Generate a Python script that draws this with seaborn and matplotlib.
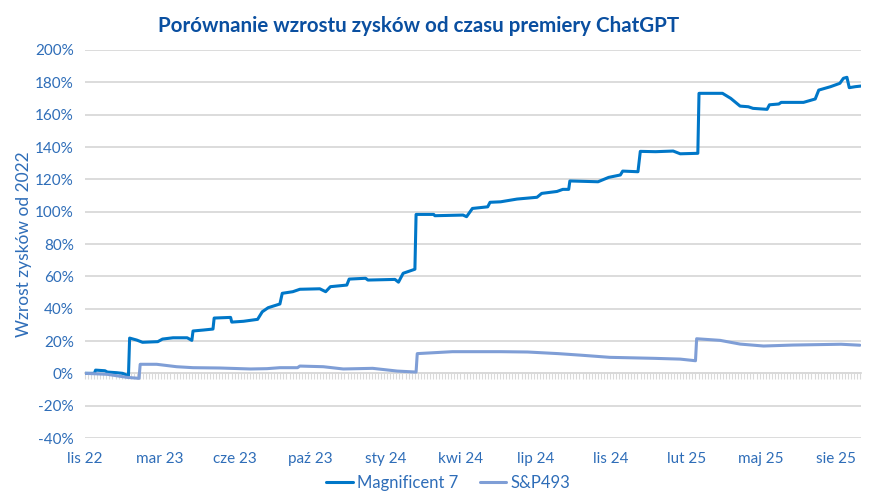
import numpy as np
import pandas as pd
import matplotlib
matplotlib.use("Agg")
import matplotlib.pyplot as plt
from matplotlib.ticker import FuncFormatter, MultipleLocator
import seaborn as sns

# values (x = trading day since ChatGPT premiere, y = % growth)
mag7_day = [0, 8, 9, 17, 19, 27, 32, 37, 38, 44, 49, 62, 66, 75, 87, 91, 92, 101, 109, 110,
            124, 125, 135, 147, 151, 156, 166, 168, 177, 183, 200, 205, 209, 223, 225, 239, 241,
            264, 267, 271, 281, 282, 297, 298, 322, 325, 330, 343, 345, 354, 368, 385, 389, 402,
            407, 412, 413, 437, 446, 456, 458, 471, 473, 486, 501, 507, 522, 523, 543, 550, 558,
            565, 569, 581, 583, 591, 593, 612, 622, 625, 635, 643, 646, 649, 651, 656, 661]
mag7_val = [0, 0, 2.0, 1.6, 0.8, 0.4, 0, -1.5, 21.8, 20.6, 19.2, 19.6, 21.2, 22.0, 22.0, 20.4,
            26.2, 26.8, 27.4, 34.2, 34.6, 31.7, 32.2, 33.4, 38.1, 40.6, 42.9, 49.5, 50.5, 52.0,
            52.3, 50.5, 53.6, 54.6, 58.3, 58.8, 57.7, 58.1, 56.4, 61.9, 64.4, 98.3, 98.3, 97.5,
            97.9, 96.9, 102.0, 103.0, 105.8, 106.1, 107.8, 108.9, 111.3, 112.5, 113.8, 113.8,
            119.0, 118.5, 121.2, 122.7, 125.1, 124.7, 137.3, 137.1, 137.5, 135.8, 136.1, 173.2,
            173.2, 170.1, 165.3, 164.9, 163.9, 163.3, 166.1, 166.6, 167.6, 167.6, 169.7, 175.2,
            177.3, 179.4, 182.5, 183.1, 176.7, 177.3, 177.7]

sp493_day = [0, 19, 36, 46, 47, 61, 78, 92, 115, 141, 155, 166, 181, 183, 203, 220, 245, 266,
             282, 283, 313, 354, 377, 403, 423, 447, 484, 507, 520, 521, 541, 558, 578, 603,
             644, 660]
sp493_val = [0, -0.6, -2.5, -3.1, 5.6, 5.6, 4.1, 3.5, 3.3, 2.7, 2.9, 3.5, 3.5, 4.5, 4.1, 2.7,
             3.1, 1.4, 0.8, 12.2, 13.4, 13.4, 13.2, 12.2, 11.2, 9.9, 9.3, 8.8, 7.8, 21.4, 20.4,
             18.1, 16.9, 17.5, 18.0, 17.4]

tick_labels = ["lis 22", "mar 23", "cze 23", "paź 23", "sty 24", "kwi 24",
               "lip 24", "lis 24", "lut 25", "maj 25", "sie 25"]
tick_step = 64  # trading days between labels

BLUE = "#0077C8"
LIGHT = "#7F9ED6"
TEXT = "#2E6DB8"
TITLE = "#0A4FA0"
GRID = "#D9D9D9"

sns.set_style("white")
plt.rcParams['font.family'] = ['Lato', 'DejaVu Sans']

df = pd.concat([
    pd.DataFrame({'day': mag7_day, 'val': mag7_val, 'series': 'Magnificent 7'}),
    pd.DataFrame({'day': sp493_day, 'val': sp493_val, 'series': 'S&P493'}),
])

fig = plt.figure(figsize=(8.94, 5.03), dpi=100)
ax = fig.add_axes([0.0951, 0.1292, 0.868, 0.7714])

sns.lineplot(data=df, x='day', y='val', hue='series', palette=[BLUE, LIGHT],
             estimator=None, sort=False, linewidth=2.2, ax=ax, legend=True)

ax.set_xlim(0, 661)
ax.set_ylim(-40, 200)
ax.yaxis.set_major_locator(MultipleLocator(20))
ax.yaxis.set_major_formatter(FuncFormatter(lambda v, p: f"{int(v)}%"))
ax.set_xticks([i * tick_step for i in range(len(tick_labels))])
ax.set_xticklabels(tick_labels)
ax.grid(axis='y', color=GRID, linewidth=1.3)
ax.set_axisbelow(True)
for s in ax.spines.values():
    s.set_visible(False)
ax.tick_params(axis='both', length=0, labelsize=11, colors=TEXT, pad=8)
ax.tick_params(axis='x', pad=10)
ax.set_xlabel('')
ax.set_ylabel('Wzrost zysków od 2022', color=TEXT, fontsize=12.5, labelpad=2)

# zero axis with small category ticks
zero = ax.secondary_xaxis(40 / 240)
zero.set_xticks(np.arange(0, 662, 2.6))
zero.tick_params(length=4, width=0.8, color=GRID, labelbottom=False)
zero.spines['bottom'].set_color(GRID)
zero.spines['bottom'].set_linewidth(1.3)

ax.set_title('Porównanie wzrostu zysków od czasu premiery ChatGPT',
             color=TITLE, fontsize=14.8, fontweight='bold', pad=13, x=0.43)

leg = ax.legend(loc='center', bbox_to_anchor=(0.468, -0.116), ncol=2, frameon=False,
                fontsize=12, handlelength=1.6, handletextpad=0.25, columnspacing=1.3)
for t in leg.get_texts():
    t.set_color(TEXT)

fig.savefig('out.png', dpi=100)
